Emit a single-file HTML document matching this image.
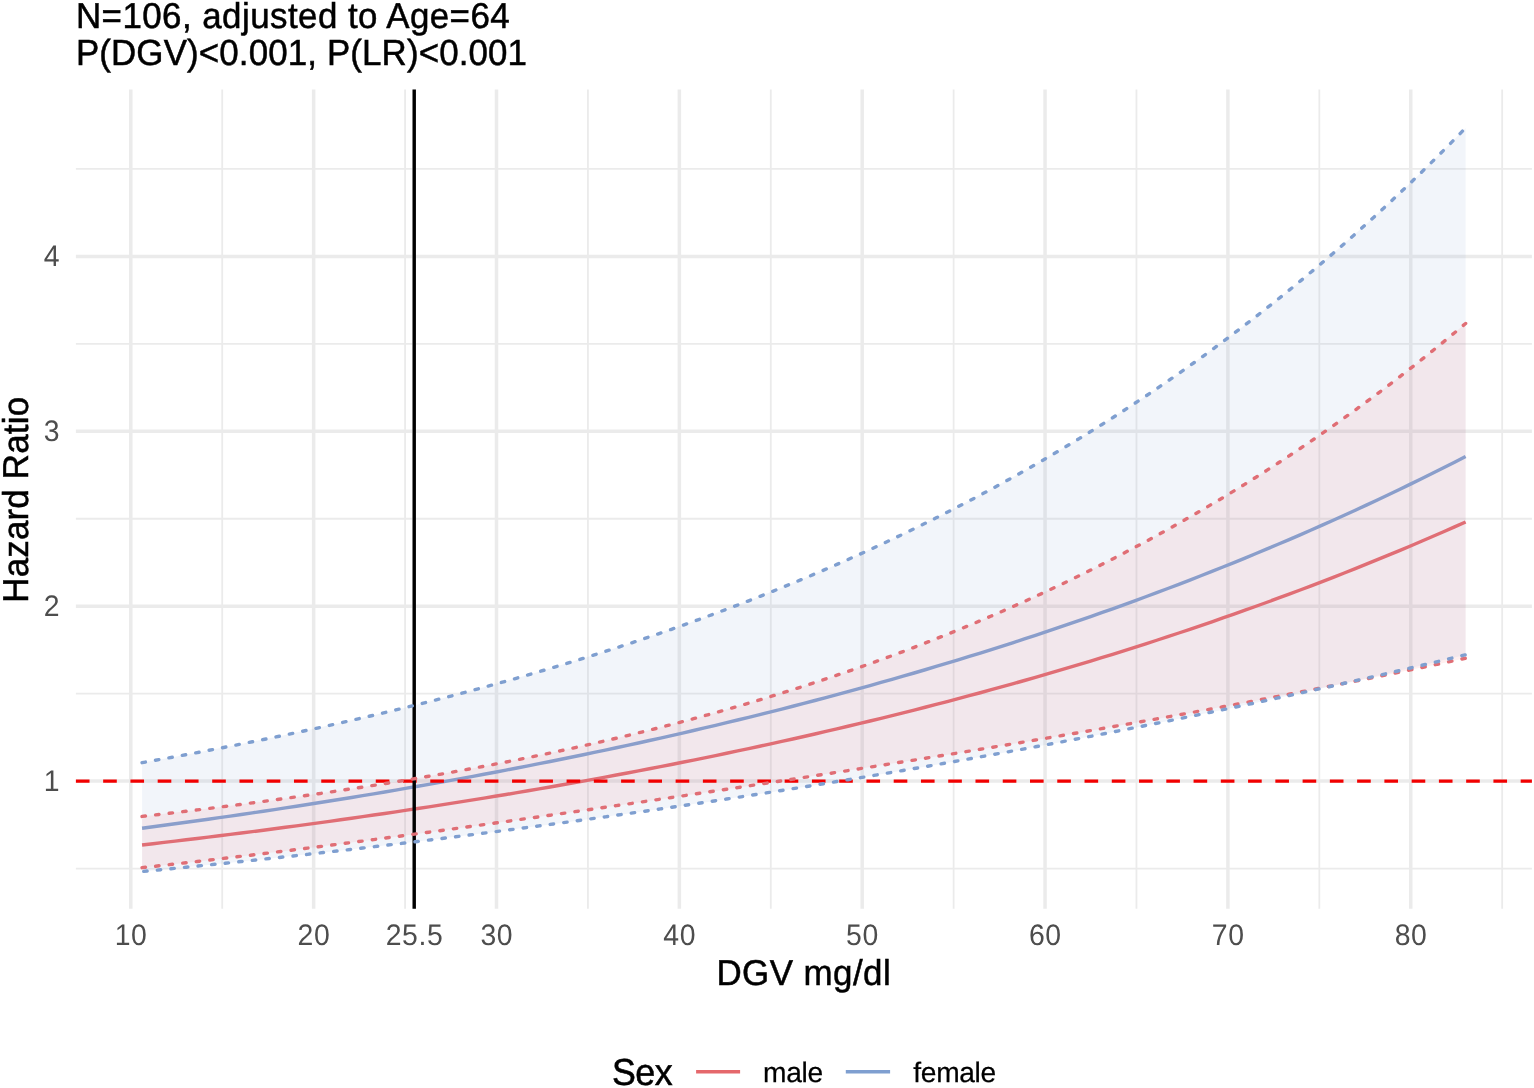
<!DOCTYPE html>
<html lang="en"><head><meta charset="utf-8"><title>Hazard Ratio by DGV</title>
<style>html,body{margin:0;padding:0;background:#fff}body{width:1534px;height:1088px;overflow:hidden}svg{display:block}text{font-family:"Liberation Sans",Arial,Helvetica,sans-serif}</style></head><body>
<svg text-rendering="geometricPrecision" width="1534" height="1088" viewBox="0 0 1534 1088">
<rect width="1534" height="1088" fill="#fff"/>
<g stroke="#EBEBEB" stroke-width="1.8" fill="none">
<path d="M75.90,868.55H1531.90"/>
<path d="M75.90,693.65H1531.90"/>
<path d="M75.90,518.75H1531.90"/>
<path d="M75.90,343.85H1531.90"/>
<path d="M75.90,168.95H1531.90"/>
<path d="M222.23,89.40V908.80"/>
<path d="M405.07,89.40V908.80"/>
<path d="M587.92,89.40V908.80"/>
<path d="M770.78,89.40V908.80"/>
<path d="M953.62,89.40V908.80"/>
<path d="M1136.47,89.40V908.80"/>
<path d="M1319.33,89.40V908.80"/>
<path d="M1502.17,89.40V908.80"/>
</g>
<g stroke="#EBEBEB" stroke-width="3.5" fill="none">
<path d="M75.90,781.10H1531.90"/>
<path d="M75.90,606.20H1531.90"/>
<path d="M75.90,431.30H1531.90"/>
<path d="M75.90,256.40H1531.90"/>
<path d="M130.80,89.40V908.80"/>
<path d="M313.65,89.40V908.80"/>
<path d="M414.22,89.40V908.80"/>
<path d="M496.50,89.40V908.80"/>
<path d="M679.35,89.40V908.80"/>
<path d="M862.20,89.40V908.80"/>
<path d="M1045.05,89.40V908.80"/>
<path d="M1227.90,89.40V908.80"/>
<path d="M1410.75,89.40V908.80"/>
</g>
<path d="M142.05,816.43 L153.07,815.16 L164.10,813.87 L175.13,812.57 L186.16,811.25 L197.19,809.91 L208.22,808.54 L219.25,807.16 L230.28,805.76 L241.31,804.34 L252.34,802.89 L263.37,801.42 L274.40,799.93 L285.43,798.42 L296.46,796.88 L307.49,795.31 L318.52,793.72 L329.55,792.10 L340.58,790.46 L351.61,788.79 L362.64,787.09 L373.67,785.36 L384.70,783.60 L395.73,781.81 L406.76,779.98 L417.79,778.13 L428.82,776.24 L439.85,774.32 L450.88,772.36 L461.91,770.36 L472.94,768.33 L483.96,766.26 L494.99,764.16 L506.02,762.01 L517.05,759.82 L528.08,757.60 L539.11,755.33 L550.14,753.02 L561.17,750.66 L572.20,748.26 L583.23,745.81 L594.26,743.32 L605.29,740.78 L616.32,738.20 L627.35,735.56 L638.38,732.88 L649.41,730.14 L660.44,727.36 L671.47,724.52 L682.50,721.63 L693.53,718.69 L704.56,715.69 L715.59,712.64 L726.62,709.53 L737.65,706.36 L748.68,703.14 L759.71,699.86 L770.74,696.52 L781.77,693.12 L792.80,689.66 L803.83,686.13 L814.85,682.55 L825.88,678.90 L836.91,675.19 L847.94,671.41 L858.97,667.57 L870.00,663.66 L881.03,659.69 L892.06,655.64 L903.09,651.53 L914.12,647.34 L925.15,643.09 L936.18,638.76 L947.21,634.36 L958.24,629.89 L969.27,625.34 L980.30,620.72 L991.33,616.02 L1002.36,611.24 L1013.39,606.38 L1024.42,601.45 L1035.45,596.43 L1046.48,591.33 L1057.51,586.14 L1068.54,580.87 L1079.57,575.52 L1090.60,570.08 L1101.63,564.55 L1112.66,558.93 L1123.69,553.22 L1134.72,547.42 L1145.74,541.53 L1156.77,535.54 L1167.80,529.46 L1178.83,523.28 L1189.86,517.00 L1200.89,510.62 L1211.92,504.14 L1222.95,497.56 L1233.98,490.87 L1245.01,484.08 L1256.04,477.18 L1267.07,470.17 L1278.10,463.05 L1289.13,455.82 L1300.16,448.48 L1311.19,441.02 L1322.22,433.44 L1333.25,425.74 L1344.28,417.93 L1355.31,409.99 L1366.34,401.93 L1377.37,393.74 L1388.40,385.42 L1399.43,376.98 L1410.46,368.40 L1421.49,359.69 L1432.52,350.84 L1443.55,341.86 L1454.58,332.73 L1465.61,323.47 L1465.61,658.22 L1454.58,660.58 L1443.55,662.93 L1432.52,665.26 L1421.49,667.57 L1410.46,669.87 L1399.43,672.16 L1388.40,674.43 L1377.37,676.68 L1366.34,678.92 L1355.31,681.15 L1344.28,683.36 L1333.25,685.55 L1322.22,687.73 L1311.19,689.90 L1300.16,692.06 L1289.13,694.20 L1278.10,696.33 L1267.07,698.44 L1256.04,700.54 L1245.01,702.63 L1233.98,704.70 L1222.95,706.77 L1211.92,708.82 L1200.89,710.85 L1189.86,712.88 L1178.83,714.89 L1167.80,716.89 L1156.77,718.88 L1145.74,720.86 L1134.72,722.83 L1123.69,724.79 L1112.66,726.73 L1101.63,728.66 L1090.60,730.59 L1079.57,732.50 L1068.54,734.40 L1057.51,736.30 L1046.48,738.18 L1035.45,740.05 L1024.42,741.92 L1013.39,743.77 L1002.36,745.61 L991.33,747.45 L980.30,749.28 L969.27,751.10 L958.24,752.91 L947.21,754.71 L936.18,756.50 L925.15,758.29 L914.12,760.06 L903.09,761.83 L892.06,763.60 L881.03,765.35 L870.00,767.10 L858.97,768.84 L847.94,770.58 L836.91,772.30 L825.88,774.03 L814.85,775.74 L803.83,777.45 L792.80,779.15 L781.77,780.85 L770.74,782.54 L759.71,784.23 L748.68,785.91 L737.65,787.58 L726.62,789.25 L715.59,790.91 L704.56,792.57 L693.53,794.23 L682.50,795.87 L671.47,797.52 L660.44,799.15 L649.41,800.79 L638.38,802.41 L627.35,804.04 L616.32,805.65 L605.29,807.26 L594.26,808.87 L583.23,810.47 L572.20,812.07 L561.17,813.65 L550.14,815.24 L539.11,816.81 L528.08,818.39 L517.05,819.95 L506.02,821.51 L494.99,823.06 L483.96,824.60 L472.94,826.14 L461.91,827.67 L450.88,829.19 L439.85,830.70 L428.82,832.20 L417.79,833.70 L406.76,835.19 L395.73,836.67 L384.70,838.13 L373.67,839.59 L362.64,841.04 L351.61,842.48 L340.58,843.91 L329.55,845.33 L318.52,846.74 L307.49,848.14 L296.46,849.52 L285.43,850.90 L274.40,852.26 L263.37,853.62 L252.34,854.96 L241.31,856.28 L230.28,857.60 L219.25,858.90 L208.22,860.20 L197.19,861.48 L186.16,862.74 L175.13,864.00 L164.10,865.24 L153.07,866.47 L142.05,867.68Z" fill="#FF6E6E" fill-opacity="0.1"/>
<path d="M142.05,762.67 L153.07,760.70 L164.10,758.71 L175.13,756.69 L186.16,754.65 L197.19,752.57 L208.22,750.47 L219.25,748.34 L230.28,746.18 L241.31,743.99 L252.34,741.78 L263.37,739.53 L274.40,737.25 L285.43,734.94 L296.46,732.59 L307.49,730.22 L318.52,727.81 L329.55,725.36 L340.58,722.88 L351.61,720.37 L362.64,717.82 L373.67,715.24 L384.70,712.62 L395.73,709.96 L406.76,707.26 L417.79,704.53 L428.82,701.75 L439.85,698.93 L450.88,696.08 L461.91,693.18 L472.94,690.24 L483.96,687.26 L494.99,684.23 L506.02,681.16 L517.05,678.05 L528.08,674.89 L539.11,671.68 L550.14,668.42 L561.17,665.12 L572.20,661.77 L583.23,658.37 L594.26,654.92 L605.29,651.41 L616.32,647.86 L627.35,644.25 L638.38,640.59 L649.41,636.87 L660.44,633.10 L671.47,629.27 L682.50,625.38 L693.53,621.44 L704.56,617.43 L715.59,613.37 L726.62,609.24 L737.65,605.05 L748.68,600.80 L759.71,596.49 L770.74,592.11 L781.77,587.66 L792.80,583.14 L803.83,578.56 L814.85,573.91 L825.88,569.19 L836.91,564.39 L847.94,559.53 L858.97,554.58 L870.00,549.57 L881.03,544.48 L892.06,539.31 L903.09,534.06 L914.12,528.73 L925.15,523.32 L936.18,517.83 L947.21,512.26 L958.24,506.60 L969.27,500.85 L980.30,495.02 L991.33,489.09 L1002.36,483.08 L1013.39,476.98 L1024.42,470.78 L1035.45,464.49 L1046.48,458.10 L1057.51,451.62 L1068.54,445.04 L1079.57,438.36 L1090.60,431.57 L1101.63,424.68 L1112.66,417.69 L1123.69,410.59 L1134.72,403.38 L1145.74,396.07 L1156.77,388.64 L1167.80,381.10 L1178.83,373.44 L1189.86,365.67 L1200.89,357.78 L1211.92,349.77 L1222.95,341.64 L1233.98,333.38 L1245.01,325.00 L1256.04,316.49 L1267.07,307.86 L1278.10,299.09 L1289.13,290.19 L1300.16,281.15 L1311.19,271.97 L1322.22,262.66 L1333.25,253.21 L1344.28,243.61 L1355.31,233.87 L1366.34,223.97 L1377.37,213.93 L1388.40,203.74 L1399.43,193.39 L1410.46,182.89 L1421.49,172.22 L1432.52,161.40 L1443.55,150.41 L1454.58,139.25 L1465.61,127.93 L1465.61,654.76 L1454.58,657.44 L1443.55,660.11 L1432.52,662.76 L1421.49,665.38 L1410.46,667.99 L1399.43,670.59 L1388.40,673.16 L1377.37,675.72 L1366.34,678.26 L1355.31,680.78 L1344.28,683.28 L1333.25,685.77 L1322.22,688.23 L1311.19,690.69 L1300.16,693.12 L1289.13,695.54 L1278.10,697.94 L1267.07,700.32 L1256.04,702.69 L1245.01,705.04 L1233.98,707.38 L1222.95,709.70 L1211.92,712.00 L1200.89,714.29 L1189.86,716.56 L1178.83,718.82 L1167.80,721.06 L1156.77,723.29 L1145.74,725.50 L1134.72,727.69 L1123.69,729.87 L1112.66,732.04 L1101.63,734.19 L1090.60,736.32 L1079.57,738.44 L1068.54,740.55 L1057.51,742.64 L1046.48,744.72 L1035.45,746.78 L1024.42,748.83 L1013.39,750.86 L1002.36,752.88 L991.33,754.89 L980.30,756.88 L969.27,758.86 L958.24,760.83 L947.21,762.78 L936.18,764.71 L925.15,766.64 L914.12,768.55 L903.09,770.45 L892.06,772.33 L881.03,774.20 L870.00,776.06 L858.97,777.90 L847.94,779.74 L836.91,781.55 L825.88,783.36 L814.85,785.15 L803.83,786.93 L792.80,788.70 L781.77,790.45 L770.74,792.19 L759.71,793.92 L748.68,795.64 L737.65,797.34 L726.62,799.03 L715.59,800.71 L704.56,802.38 L693.53,804.03 L682.50,805.67 L671.47,807.30 L660.44,808.92 L649.41,810.52 L638.38,812.12 L627.35,813.70 L616.32,815.26 L605.29,816.82 L594.26,818.36 L583.23,819.90 L572.20,821.41 L561.17,822.92 L550.14,824.42 L539.11,825.90 L528.08,827.37 L517.05,828.83 L506.02,830.28 L494.99,831.72 L483.96,833.14 L472.94,834.55 L461.91,835.95 L450.88,837.34 L439.85,838.72 L428.82,840.08 L417.79,841.44 L406.76,842.78 L395.73,844.11 L384.70,845.43 L373.67,846.74 L362.64,848.03 L351.61,849.32 L340.58,850.59 L329.55,851.85 L318.52,853.10 L307.49,854.34 L296.46,855.56 L285.43,856.78 L274.40,857.98 L263.37,859.18 L252.34,860.36 L241.31,861.53 L230.28,862.69 L219.25,863.84 L208.22,864.97 L197.19,866.10 L186.16,867.21 L175.13,868.32 L164.10,869.41 L153.07,870.49 L142.05,871.56Z" fill="#7D9BCD" fill-opacity="0.1"/>
<g fill="none" stroke-width="3.41">
<path d="M142.05,844.98 L153.07,843.71 L164.10,842.42 L175.13,841.13 L186.16,839.81 L197.19,838.49 L208.22,837.14 L219.25,835.79 L230.28,834.41 L241.31,833.02 L252.34,831.62 L263.37,830.20 L274.40,828.76 L285.43,827.31 L296.46,825.84 L307.49,824.35 L318.52,822.84 L329.55,821.32 L340.58,819.78 L351.61,818.23 L362.64,816.65 L373.67,815.06 L384.70,813.45 L395.73,811.82 L406.76,810.17 L417.79,808.51 L428.82,806.82 L439.85,805.12 L450.88,803.39 L461.91,801.65 L472.94,799.89 L483.96,798.10 L494.99,796.30 L506.02,794.48 L517.05,792.63 L528.08,790.76 L539.11,788.88 L550.14,786.97 L561.17,785.03 L572.20,783.08 L583.23,781.11 L594.26,779.11 L605.29,777.09 L616.32,775.04 L627.35,772.97 L638.38,770.88 L649.41,768.77 L660.44,766.63 L671.47,764.47 L682.50,762.28 L693.53,760.06 L704.56,757.82 L715.59,755.56 L726.62,753.27 L737.65,750.95 L748.68,748.61 L759.71,746.24 L770.74,743.85 L781.77,741.42 L792.80,738.97 L803.83,736.49 L814.85,733.98 L825.88,731.44 L836.91,728.88 L847.94,726.28 L858.97,723.66 L870.00,721.00 L881.03,718.32 L892.06,715.60 L903.09,712.86 L914.12,710.08 L925.15,707.27 L936.18,704.43 L947.21,701.55 L958.24,698.65 L969.27,695.71 L980.30,692.73 L991.33,689.72 L1002.36,686.68 L1013.39,683.60 L1024.42,680.49 L1035.45,677.34 L1046.48,674.16 L1057.51,670.94 L1068.54,667.68 L1079.57,664.39 L1090.60,661.06 L1101.63,657.69 L1112.66,654.28 L1123.69,650.83 L1134.72,647.34 L1145.74,643.82 L1156.77,640.25 L1167.80,636.64 L1178.83,633.00 L1189.86,629.30 L1200.89,625.57 L1211.92,621.80 L1222.95,617.98 L1233.98,614.12 L1245.01,610.21 L1256.04,606.26 L1267.07,602.26 L1278.10,598.22 L1289.13,594.13 L1300.16,590.00 L1311.19,585.82 L1322.22,581.59 L1333.25,577.31 L1344.28,572.98 L1355.31,568.61 L1366.34,564.18 L1377.37,559.70 L1388.40,555.18 L1399.43,550.60 L1410.46,545.96 L1421.49,541.28 L1432.52,536.54 L1443.55,531.75 L1454.58,526.90 L1465.61,522.00" stroke="#E06E75"/>
<path d="M142.05,828.23 L153.07,826.77 L164.10,825.30 L175.13,823.80 L186.16,822.29 L197.19,820.77 L208.22,819.22 L219.25,817.66 L230.28,816.08 L241.31,814.48 L252.34,812.86 L263.37,811.23 L274.40,809.57 L285.43,807.90 L296.46,806.21 L307.49,804.49 L318.52,802.76 L329.55,801.01 L340.58,799.24 L351.61,797.45 L362.64,795.64 L373.67,793.81 L384.70,791.95 L395.73,790.08 L406.76,788.18 L417.79,786.27 L428.82,784.33 L439.85,782.37 L450.88,780.38 L461.91,778.38 L472.94,776.35 L483.96,774.29 L494.99,772.22 L506.02,770.12 L517.05,767.99 L528.08,765.85 L539.11,763.67 L550.14,761.48 L561.17,759.25 L572.20,757.01 L583.23,754.73 L594.26,752.43 L605.29,750.11 L616.32,747.75 L627.35,745.37 L638.38,742.97 L649.41,740.53 L660.44,738.07 L671.47,735.58 L682.50,733.06 L693.53,730.52 L704.56,727.94 L715.59,725.33 L726.62,722.70 L737.65,720.03 L748.68,717.34 L759.71,714.61 L770.74,711.85 L781.77,709.06 L792.80,706.24 L803.83,703.39 L814.85,700.50 L825.88,697.58 L836.91,694.63 L847.94,691.64 L858.97,688.62 L870.00,685.57 L881.03,682.48 L892.06,679.35 L903.09,676.19 L914.12,672.99 L925.15,669.76 L936.18,666.49 L947.21,663.18 L958.24,659.84 L969.27,656.45 L980.30,653.03 L991.33,649.57 L1002.36,646.07 L1013.39,642.53 L1024.42,638.95 L1035.45,635.32 L1046.48,631.66 L1057.51,627.95 L1068.54,624.21 L1079.57,620.41 L1090.60,616.58 L1101.63,612.70 L1112.66,608.78 L1123.69,604.81 L1134.72,600.80 L1145.74,596.74 L1156.77,592.64 L1167.80,588.49 L1178.83,584.29 L1189.86,580.04 L1200.89,575.74 L1211.92,571.40 L1222.95,567.00 L1233.98,562.56 L1245.01,558.06 L1256.04,553.52 L1267.07,548.92 L1278.10,544.27 L1289.13,539.56 L1300.16,534.81 L1311.19,529.99 L1322.22,525.13 L1333.25,520.20 L1344.28,515.22 L1355.31,510.19 L1366.34,505.09 L1377.37,499.94 L1388.40,494.73 L1399.43,489.46 L1410.46,484.13 L1421.49,478.74 L1432.52,473.29 L1443.55,467.77 L1454.58,462.19 L1465.61,456.55" stroke="#8A9ECB"/>
</g>
<path d="M75.90,781.10H1531.90" stroke="#F20000" stroke-width="3.41" stroke-dasharray="13.63 13.63" fill="none"/>
<path d="M414.22,89.40V908.80" stroke="#000" stroke-width="3.41" fill="none"/>
<g fill="none" stroke-width="3.41" stroke-linecap="round" stroke-dasharray="3.41 10.23">
<path d="M142.05,816.43 L153.07,815.16 L164.10,813.87 L175.13,812.57 L186.16,811.25 L197.19,809.91 L208.22,808.54 L219.25,807.16 L230.28,805.76 L241.31,804.34 L252.34,802.89 L263.37,801.42 L274.40,799.93 L285.43,798.42 L296.46,796.88 L307.49,795.31 L318.52,793.72 L329.55,792.10 L340.58,790.46 L351.61,788.79 L362.64,787.09 L373.67,785.36 L384.70,783.60 L395.73,781.81 L406.76,779.98 L417.79,778.13 L428.82,776.24 L439.85,774.32 L450.88,772.36 L461.91,770.36 L472.94,768.33 L483.96,766.26 L494.99,764.16 L506.02,762.01 L517.05,759.82 L528.08,757.60 L539.11,755.33 L550.14,753.02 L561.17,750.66 L572.20,748.26 L583.23,745.81 L594.26,743.32 L605.29,740.78 L616.32,738.20 L627.35,735.56 L638.38,732.88 L649.41,730.14 L660.44,727.36 L671.47,724.52 L682.50,721.63 L693.53,718.69 L704.56,715.69 L715.59,712.64 L726.62,709.53 L737.65,706.36 L748.68,703.14 L759.71,699.86 L770.74,696.52 L781.77,693.12 L792.80,689.66 L803.83,686.13 L814.85,682.55 L825.88,678.90 L836.91,675.19 L847.94,671.41 L858.97,667.57 L870.00,663.66 L881.03,659.69 L892.06,655.64 L903.09,651.53 L914.12,647.34 L925.15,643.09 L936.18,638.76 L947.21,634.36 L958.24,629.89 L969.27,625.34 L980.30,620.72 L991.33,616.02 L1002.36,611.24 L1013.39,606.38 L1024.42,601.45 L1035.45,596.43 L1046.48,591.33 L1057.51,586.14 L1068.54,580.87 L1079.57,575.52 L1090.60,570.08 L1101.63,564.55 L1112.66,558.93 L1123.69,553.22 L1134.72,547.42 L1145.74,541.53 L1156.77,535.54 L1167.80,529.46 L1178.83,523.28 L1189.86,517.00 L1200.89,510.62 L1211.92,504.14 L1222.95,497.56 L1233.98,490.87 L1245.01,484.08 L1256.04,477.18 L1267.07,470.17 L1278.10,463.05 L1289.13,455.82 L1300.16,448.48 L1311.19,441.02 L1322.22,433.44 L1333.25,425.74 L1344.28,417.93 L1355.31,409.99 L1366.34,401.93 L1377.37,393.74 L1388.40,385.42 L1399.43,376.98 L1410.46,368.40 L1421.49,359.69 L1432.52,350.84 L1443.55,341.86 L1454.58,332.73 L1465.61,323.47" stroke="#E06E75"/>
<path d="M142.05,762.67 L153.07,760.70 L164.10,758.71 L175.13,756.69 L186.16,754.65 L197.19,752.57 L208.22,750.47 L219.25,748.34 L230.28,746.18 L241.31,743.99 L252.34,741.78 L263.37,739.53 L274.40,737.25 L285.43,734.94 L296.46,732.59 L307.49,730.22 L318.52,727.81 L329.55,725.36 L340.58,722.88 L351.61,720.37 L362.64,717.82 L373.67,715.24 L384.70,712.62 L395.73,709.96 L406.76,707.26 L417.79,704.53 L428.82,701.75 L439.85,698.93 L450.88,696.08 L461.91,693.18 L472.94,690.24 L483.96,687.26 L494.99,684.23 L506.02,681.16 L517.05,678.05 L528.08,674.89 L539.11,671.68 L550.14,668.42 L561.17,665.12 L572.20,661.77 L583.23,658.37 L594.26,654.92 L605.29,651.41 L616.32,647.86 L627.35,644.25 L638.38,640.59 L649.41,636.87 L660.44,633.10 L671.47,629.27 L682.50,625.38 L693.53,621.44 L704.56,617.43 L715.59,613.37 L726.62,609.24 L737.65,605.05 L748.68,600.80 L759.71,596.49 L770.74,592.11 L781.77,587.66 L792.80,583.14 L803.83,578.56 L814.85,573.91 L825.88,569.19 L836.91,564.39 L847.94,559.53 L858.97,554.58 L870.00,549.57 L881.03,544.48 L892.06,539.31 L903.09,534.06 L914.12,528.73 L925.15,523.32 L936.18,517.83 L947.21,512.26 L958.24,506.60 L969.27,500.85 L980.30,495.02 L991.33,489.09 L1002.36,483.08 L1013.39,476.98 L1024.42,470.78 L1035.45,464.49 L1046.48,458.10 L1057.51,451.62 L1068.54,445.04 L1079.57,438.36 L1090.60,431.57 L1101.63,424.68 L1112.66,417.69 L1123.69,410.59 L1134.72,403.38 L1145.74,396.07 L1156.77,388.64 L1167.80,381.10 L1178.83,373.44 L1189.86,365.67 L1200.89,357.78 L1211.92,349.77 L1222.95,341.64 L1233.98,333.38 L1245.01,325.00 L1256.04,316.49 L1267.07,307.86 L1278.10,299.09 L1289.13,290.19 L1300.16,281.15 L1311.19,271.97 L1322.22,262.66 L1333.25,253.21 L1344.28,243.61 L1355.31,233.87 L1366.34,223.97 L1377.37,213.93 L1388.40,203.74 L1399.43,193.39 L1410.46,182.89 L1421.49,172.22 L1432.52,161.40 L1443.55,150.41 L1454.58,139.25 L1465.61,127.93" stroke="#7F9FD0"/>
<path d="M142.05,867.68 L153.07,866.47 L164.10,865.24 L175.13,864.00 L186.16,862.74 L197.19,861.48 L208.22,860.20 L219.25,858.90 L230.28,857.60 L241.31,856.28 L252.34,854.96 L263.37,853.62 L274.40,852.26 L285.43,850.90 L296.46,849.52 L307.49,848.14 L318.52,846.74 L329.55,845.33 L340.58,843.91 L351.61,842.48 L362.64,841.04 L373.67,839.59 L384.70,838.13 L395.73,836.67 L406.76,835.19 L417.79,833.70 L428.82,832.20 L439.85,830.70 L450.88,829.19 L461.91,827.67 L472.94,826.14 L483.96,824.60 L494.99,823.06 L506.02,821.51 L517.05,819.95 L528.08,818.39 L539.11,816.81 L550.14,815.24 L561.17,813.65 L572.20,812.07 L583.23,810.47 L594.26,808.87 L605.29,807.26 L616.32,805.65 L627.35,804.04 L638.38,802.41 L649.41,800.79 L660.44,799.15 L671.47,797.52 L682.50,795.87 L693.53,794.23 L704.56,792.57 L715.59,790.91 L726.62,789.25 L737.65,787.58 L748.68,785.91 L759.71,784.23 L770.74,782.54 L781.77,780.85 L792.80,779.15 L803.83,777.45 L814.85,775.74 L825.88,774.03 L836.91,772.30 L847.94,770.58 L858.97,768.84 L870.00,767.10 L881.03,765.35 L892.06,763.60 L903.09,761.83 L914.12,760.06 L925.15,758.29 L936.18,756.50 L947.21,754.71 L958.24,752.91 L969.27,751.10 L980.30,749.28 L991.33,747.45 L1002.36,745.61 L1013.39,743.77 L1024.42,741.92 L1035.45,740.05 L1046.48,738.18 L1057.51,736.30 L1068.54,734.40 L1079.57,732.50 L1090.60,730.59 L1101.63,728.66 L1112.66,726.73 L1123.69,724.79 L1134.72,722.83 L1145.74,720.86 L1156.77,718.88 L1167.80,716.89 L1178.83,714.89 L1189.86,712.88 L1200.89,710.85 L1211.92,708.82 L1222.95,706.77 L1233.98,704.70 L1245.01,702.63 L1256.04,700.54 L1267.07,698.44 L1278.10,696.33 L1289.13,694.20 L1300.16,692.06 L1311.19,689.90 L1322.22,687.73 L1333.25,685.55 L1344.28,683.36 L1355.31,681.15 L1366.34,678.92 L1377.37,676.68 L1388.40,674.43 L1399.43,672.16 L1410.46,669.87 L1421.49,667.57 L1432.52,665.26 L1443.55,662.93 L1454.58,660.58 L1465.61,658.22" stroke="#E06E75"/>
<path d="M142.05,871.56 L153.07,870.49 L164.10,869.41 L175.13,868.32 L186.16,867.21 L197.19,866.10 L208.22,864.97 L219.25,863.84 L230.28,862.69 L241.31,861.53 L252.34,860.36 L263.37,859.18 L274.40,857.98 L285.43,856.78 L296.46,855.56 L307.49,854.34 L318.52,853.10 L329.55,851.85 L340.58,850.59 L351.61,849.32 L362.64,848.03 L373.67,846.74 L384.70,845.43 L395.73,844.11 L406.76,842.78 L417.79,841.44 L428.82,840.08 L439.85,838.72 L450.88,837.34 L461.91,835.95 L472.94,834.55 L483.96,833.14 L494.99,831.72 L506.02,830.28 L517.05,828.83 L528.08,827.37 L539.11,825.90 L550.14,824.42 L561.17,822.92 L572.20,821.41 L583.23,819.90 L594.26,818.36 L605.29,816.82 L616.32,815.26 L627.35,813.70 L638.38,812.12 L649.41,810.52 L660.44,808.92 L671.47,807.30 L682.50,805.67 L693.53,804.03 L704.56,802.38 L715.59,800.71 L726.62,799.03 L737.65,797.34 L748.68,795.64 L759.71,793.92 L770.74,792.19 L781.77,790.45 L792.80,788.70 L803.83,786.93 L814.85,785.15 L825.88,783.36 L836.91,781.55 L847.94,779.74 L858.97,777.90 L870.00,776.06 L881.03,774.20 L892.06,772.33 L903.09,770.45 L914.12,768.55 L925.15,766.64 L936.18,764.71 L947.21,762.78 L958.24,760.83 L969.27,758.86 L980.30,756.88 L991.33,754.89 L1002.36,752.88 L1013.39,750.86 L1024.42,748.83 L1035.45,746.78 L1046.48,744.72 L1057.51,742.64 L1068.54,740.55 L1079.57,738.44 L1090.60,736.32 L1101.63,734.19 L1112.66,732.04 L1123.69,729.87 L1134.72,727.69 L1145.74,725.50 L1156.77,723.29 L1167.80,721.06 L1178.83,718.82 L1189.86,716.56 L1200.89,714.29 L1211.92,712.00 L1222.95,709.70 L1233.98,707.38 L1245.01,705.04 L1256.04,702.69 L1267.07,700.32 L1278.10,697.94 L1289.13,695.54 L1300.16,693.12 L1311.19,690.69 L1322.22,688.23 L1333.25,685.77 L1344.28,683.28 L1355.31,680.78 L1366.34,678.26 L1377.37,675.72 L1388.40,673.16 L1399.43,670.59 L1410.46,667.99 L1421.49,665.38 L1432.52,662.76 L1443.55,660.11 L1454.58,657.44 L1465.61,654.76" stroke="#7F9FD0" stroke-dashoffset="-1.7"/>
</g>
<text transform="translate(75.90,27.70) scale(1,1.030)" font-size="34.90" fill="#000" stroke="#000" stroke-width="0.50" letter-spacing="0.454">N=106, adjusted to Age=64</text>
<text transform="translate(75.90,65.00) scale(1,1.040)" font-size="34.90" fill="#000" stroke="#000" stroke-width="0.50" letter-spacing="0.128">P(DGV)&lt;0.001, P(LR)&lt;0.001</text>
<text transform="translate(803.80,984.60) scale(1,1.030)" font-size="34.90" fill="#000" text-anchor="middle" stroke="#000" stroke-width="0.50" letter-spacing="0.450">DGV mg/dl</text>
<text transform="translate(27.90,499.70) rotate(-90) scale(1,1.030)" font-size="34.90" fill="#000" text-anchor="middle" stroke="#000" stroke-width="0.50" letter-spacing="0.200">Hazard Ratio</text>
<text transform="translate(611.90,1084.60) scale(1,1.050)" font-size="35.80" fill="#000" stroke="#000" stroke-width="0.50" letter-spacing="-0.450">Sex</text>
<text transform="translate(59.60,791.05) scale(1,1.045)" font-size="28.40" fill="#4D4D4D" text-anchor="end">1</text>
<text transform="translate(59.60,616.15) scale(1,1.045)" font-size="28.40" fill="#4D4D4D" text-anchor="end">2</text>
<text transform="translate(59.60,441.25) scale(1,1.045)" font-size="28.40" fill="#4D4D4D" text-anchor="end">3</text>
<text transform="translate(59.60,266.35) scale(1,1.045)" font-size="28.40" fill="#4D4D4D" text-anchor="end">4</text>
<text transform="translate(131.10,945.00) scale(1,1.045)" font-size="28.40" fill="#4D4D4D" text-anchor="middle" letter-spacing="0.600">10</text>
<text transform="translate(313.95,945.00) scale(1,1.045)" font-size="28.40" fill="#4D4D4D" text-anchor="middle" letter-spacing="0.600">20</text>
<text transform="translate(414.52,945.00) scale(1,1.045)" font-size="28.40" fill="#4D4D4D" text-anchor="middle" letter-spacing="0.600">25.5</text>
<text transform="translate(496.80,945.00) scale(1,1.045)" font-size="28.40" fill="#4D4D4D" text-anchor="middle" letter-spacing="0.600">30</text>
<text transform="translate(679.65,945.00) scale(1,1.045)" font-size="28.40" fill="#4D4D4D" text-anchor="middle" letter-spacing="0.600">40</text>
<text transform="translate(862.50,945.00) scale(1,1.045)" font-size="28.40" fill="#4D4D4D" text-anchor="middle" letter-spacing="0.600">50</text>
<text transform="translate(1045.35,945.00) scale(1,1.045)" font-size="28.40" fill="#4D4D4D" text-anchor="middle" letter-spacing="0.600">60</text>
<text transform="translate(1228.20,945.00) scale(1,1.045)" font-size="28.40" fill="#4D4D4D" text-anchor="middle" letter-spacing="0.600">70</text>
<text transform="translate(1411.05,945.00) scale(1,1.045)" font-size="28.40" fill="#4D4D4D" text-anchor="middle" letter-spacing="0.600">80</text>
<text transform="translate(763.10,1082.00)" font-size="28.15" fill="#000" stroke="#000" stroke-width="0.25" letter-spacing="-0.300">male</text>
<text transform="translate(913.30,1082.00)" font-size="28.15" fill="#000" stroke="#000" stroke-width="0.25" letter-spacing="-0.320">female</text>
<path d="M696.1,1071.8H740.1" stroke="#E5686C" stroke-width="3.41"/>
<path d="M845.8,1071.8H890.1" stroke="#7F9FD0" stroke-width="3.41"/>
</svg></body></html>
